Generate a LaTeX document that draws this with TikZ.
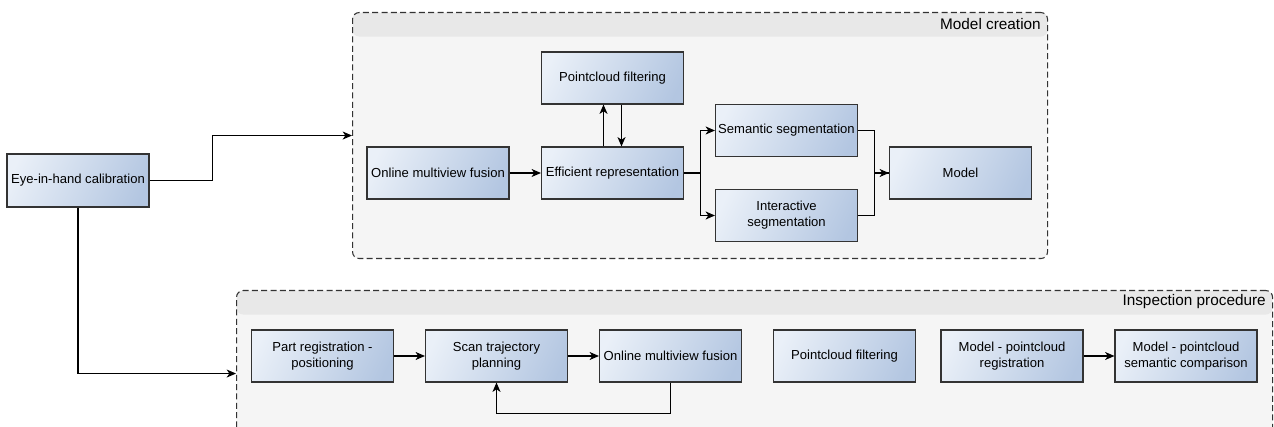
\documentclass[tikz,border=0pt]{standalone}
\usepackage{fontspec}
\setmainfont{Liberation Sans}
\usetikzlibrary{arrows.meta,calc}
\definecolor{boxL}{HTML}{EAF0F8}
\definecolor{boxR}{HTML}{B3C6E1}
\definecolor{contfill}{HTML}{F5F5F5}
\definecolor{headfill}{HTML}{E8E8E8}
\definecolor{edge}{HTML}{333333}
\pgfdeclarehorizontalshading{boxshade}{100bp}{color(0bp)=(boxL); color(22bp)=(boxL); color(78bp)=(boxR); color(100bp)=(boxR)}
\tikzset{
  box/.style={draw=edge, line width=0.85pt, shading=boxshade, shading angle=-25,
    minimum width=106.5pt, minimum height=39pt, inner sep=1pt, align=center,
    font=\fontsize{9.8}{12}\selectfont, text=black},
  cont/.style={draw=edge, line width=0.8pt, dash pattern=on 4.5pt off 2.5pt,
    fill=contfill, rounded corners=5pt, inner sep=0pt, anchor=north west,
    path picture={\fill[headfill] (path picture bounding box.north west) rectangle ([yshift=-18pt]path picture bounding box.north east);}},
  ctitle/.style={anchor=east, font=\fontsize{11.5}{13}\selectfont, text=black, inner sep=0pt},
  arr/.style={draw=black, line width=0.8pt, -{Stealth[length=7pt, width=6pt, inset=2pt]}},
  ln/.style={draw=black, line width=0.8pt}
}
\begin{document}
\begin{tikzpicture}[x=0.75pt, y=-0.75pt]
\useasboundingbox (0,0) rectangle (1274,427);
\clip (0,0) rectangle (1274,427);
% containers
\node[cont, minimum width=521.25pt, minimum height=184.5pt] (mc) at (352,12) {};
\node[ctitle] (mct) at (1041,24) {Model creation};
\node[cont, minimum width=777pt, minimum height=124.5pt] (ip) at (236,290) {};
\node[ctitle] (ipt) at (1266,302) {Inspection procedure};
% nodes
\node[box, minimum height=39.75pt] (eye) at (78,180.5) {Eye-in-hand calibration};
\node[box] (omf1) at (438,173) {Online multiview fusion};
\node[box] (eff) at (612.5,173) {Efficient representation};
\node[box] (pcf1) at (612.5,78) {Pointcloud filtering};
\node[box] (sem) at (786.5,130.5) {Semantic segmentation};
\node[box] (inter) at (786.5,215.5) {Interactive\\segmentation};
\node[box] (model) at (960.5,173) {Model};
\node[box] (preg) at (322.5,356) {Part registration -\\positioning};
\node[box] (scan) at (496.5,356) {Scan trajectory\\planning};
\node[box] (omf2) at (670.5,356) {Online multiview fusion};
\node[box] (pcf2) at (844.5,356) {Pointcloud filtering};
\node[box] (mreg) at (1012,356) {Model - pointcloud\\registration};
\node[box] (mcmp) at (1186,356) {Model - pointcloud\\semantic comparison};
% connectors
\draw[arr] (eye.east) -- ++(63,0) |- (mc.west);
\draw[arr] (eye.south) |- (ip.west);
\draw[arr] (omf1) -- (eff);
\draw[arr] ([xshift=-6.75pt]eff.north) -- ([xshift=-6.75pt]pcf1.south);
\draw[arr] ([xshift=6.75pt]pcf1.south) -- ([xshift=6.75pt]eff.north);
\draw[arr] (eff.east) -- ++(16,0) |- (sem.west);
\draw[arr] (eff.east) -- ++(16,0) |- (inter.west);
\draw[arr] (sem.east) -- ++(16,0) |- (model.west);
\draw[ln] (inter.east) -- ++(16,0) |- (model.west);
\draw[arr] (preg) -- (scan);
\draw[arr] (scan) -- (omf2);
\draw[arr] (omf2.south) -- ++(0,31) -| (scan.south);
\draw[arr] (mreg) -- (mcmp);
\end{tikzpicture}
\end{document}
